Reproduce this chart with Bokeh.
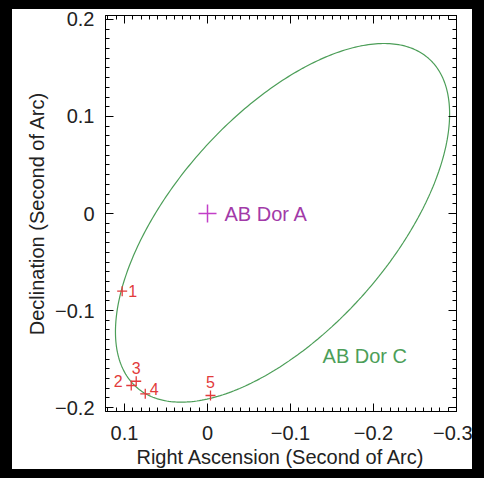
import numpy as np
from bokeh.plotting import figure
from bokeh.models import Range1d, LinearAxis, FixedTicker, CustomJSTickFormatter, ColumnDataSource
from bokeh.core.properties import value
from bokeh.embed import file_html
from bokeh.resources import INLINE

# ---- data ----
x_ticks = [0.1, 0.0, -0.1, -0.2, -0.3]
x_tick_labels = ["0.1", "0", "\u22120.1", "\u22120.2", "\u22120.3"]
y_ticks = [0.2, 0.1, 0.0, -0.1, -0.2]
y_tick_labels = ["0.2", "0.1", "0", "\u22120.1", "\u22120.2"]

epoch_labels = ["1", "2", "3", "4", "5"]
epoch_ra = [0.1028, 0.0919, 0.0859, 0.0750, -0.0036]
epoch_dec = [-0.0801, -0.1773, -0.1729, -0.1859, -0.1876]

primary_name = ["AB Dor A"]
primary_ra = [0.0]
primary_dec = [0.0]

orbit_name = ["AB Dor C"]
orbit_label_ra = [-0.1386]
orbit_label_dec = [-0.1469]
orbit_center_ra = -0.0904
orbit_center_dec = -0.0096
orbit_semi_major = 0.2453
orbit_semi_minor = 0.1205
orbit_angle_deg = -41.0

# ---- styles ----
FONT = "Liberation Sans"
RED = "#e23b3b"
GREEN = "#4c9e58"
MAGENTA = "#c23fc8"
epoch_dx = [6, -13, 0, 9, 0]
epoch_dy = [0, -5, -13, -5, -13]
epoch_align = ["left", "center", "center", "center", "center"]

W, H = 484, 478
BL, BT = 12, 9   # black picture-frame widths (left/right, top/bottom)
p = figure(width=W, height=H,
           x_range=Range1d(0.1229, -0.3), y_range=Range1d(-0.2041, 0.2041),
           output_backend="svg", toolbar_location=None,
           min_border_left=105 - BL, min_border_right=W - (456 - BL),
           min_border_top=15 - BT, min_border_bottom=H - (411 - BT),
           x_axis_label="Right Ascension (Second of Arc)",
           y_axis_label="Declination (Second of Arc)")
p.styles = {"border-style": "solid", "border-color": "black",
            "border-width": f"{BT}px {BL}px", "box-sizing": "border-box",
            "overflow": "hidden"}
p.xgrid.visible = False
p.ygrid.visible = False
p.outline_line_color = "black"
p.outline_line_width = 1
p.background_fill_color = "white"
p.border_fill_color = "white"

x_minor = list(np.round(np.arange(-0.30, 0.1229, 0.01), 3))
y_minor = list(np.round(np.arange(-0.20, 0.2001, 0.01), 3))

def fmt(ticks, labels):
    return CustomJSTickFormatter(args=dict(t=ticks, l=labels), code="""
        for (let i = 0; i < t.length; i++) { if (Math.abs(tick - t[i]) < 1e-6) return l[i]; }
        return '';
    """)

def style_axis(ax, ticks, minor, labels, show):
    ax.ticker = FixedTicker(ticks=ticks, minor_ticks=minor)
    ax.major_tick_in = 8
    ax.major_tick_out = 0
    ax.minor_tick_in = 4
    ax.minor_tick_out = 0
    ax.axis_line_color = "black"
    ax.major_tick_line_color = "black"
    ax.minor_tick_line_color = "black"
    ax.major_label_text_font = FONT
    ax.axis_label_text_font = FONT
    ax.axis_label_text_font_style = "normal"
    ax.axis_label_text_font_size = "20px"
    ax.axis_label_text_color = "#222222"
    ax.major_label_text_color = "#222222"
    if show:
        ax.formatter = fmt(ticks, labels)
        ax.major_label_text_font_size = "20px"
    else:
        ax.formatter = CustomJSTickFormatter(code="return '';")
        ax.major_label_text_font_size = "1px"
        ax.major_label_standoff = 0
        ax.axis_label = None

style_axis(p.xaxis[0], x_ticks, x_minor, x_tick_labels, True)
style_axis(p.yaxis[0], y_ticks, y_minor, y_tick_labels, True)
p.xaxis[0].major_label_standoff = 14
p.xaxis[0].axis_label_standoff = 3
p.yaxis[0].major_label_standoff = 11
p.yaxis[0].axis_label_standoff = 4

top = LinearAxis()
style_axis(top, x_ticks, x_minor, x_tick_labels, False)
p.add_layout(top, "above")
right = LinearAxis()
style_axis(right, y_ticks, y_minor, y_tick_labels, False)
p.add_layout(right, "right")

# orbit ellipse outline from its fitted parameters
t = np.linspace(0, 2 * np.pi, 361)
th = np.deg2rad(orbit_angle_deg)
ex = orbit_center_ra + orbit_semi_major * np.cos(t) * np.cos(th) - orbit_semi_minor * np.sin(t) * np.sin(th)
ey = orbit_center_dec + orbit_semi_major * np.cos(t) * np.sin(th) + orbit_semi_minor * np.sin(t) * np.cos(th)
p.line(ex, ey, line_color=GREEN, line_width=1.2)

# primary star
p.scatter(primary_ra, primary_dec, marker="cross", size=18, line_color=MAGENTA, line_width=1.5)
p.text(primary_ra, primary_dec, text=primary_name, x_offset=17, text_align="left",
       text_baseline="middle", text_font=value(FONT), text_font_size="20px", text_color="#a23aa8")

# epochs
src = ColumnDataSource(dict(x=epoch_ra, y=epoch_dec, lab=epoch_labels,
                            dx=epoch_dx, dy=epoch_dy, al=epoch_align))
p.scatter("x", "y", source=src, marker="cross", size=10, line_color=RED, line_width=1.3)
p.text("x", "y", text="lab", source=src, x_offset="dx", y_offset="dy", text_align="al",
       text_baseline="middle", text_font=value(FONT), text_font_size="16px", text_color=RED)

p.text(orbit_label_ra, orbit_label_dec, text=orbit_name, text_align="left",
       text_baseline="middle", text_font=value(FONT), text_font_size="20px", text_color=GREEN)

open("out.html", "w").write(file_html(p, INLINE))
